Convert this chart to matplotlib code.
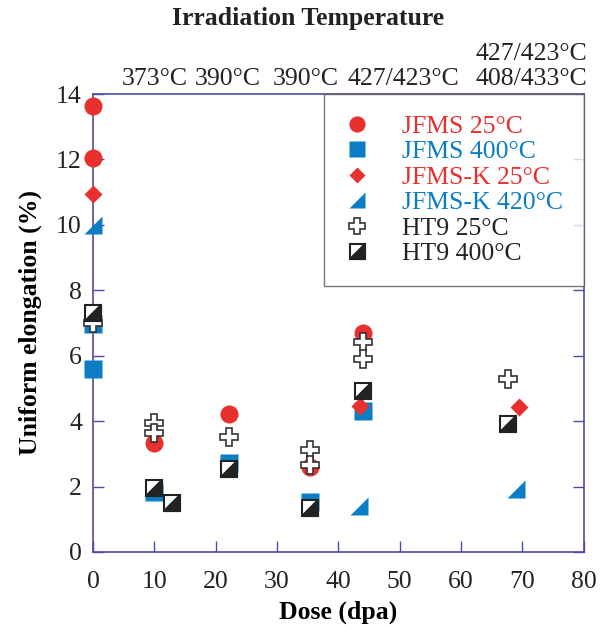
import matplotlib
matplotlib.use('Agg')
import matplotlib.pyplot as plt
from matplotlib.path import Path
import numpy as np

plt.rcParams['font.family'] = ['Liberation Serif', 'DejaVu Serif']

red = '#e8302e'
blue = '#0a7dc4'
spine_col = '#4b4ba6'
fs = 18.5

# JFMS 25C (circles)
jfms25_x = [0, 0, 10, 22.2, 35.3, 44]
jfms25_y = [13.63, 12.04, 3.34, 4.23, 2.59, 6.69]
# JFMS 400C (squares)
jfms400_x = [0, 0, 10, 22.2, 35.3, 44]
jfms400_y = [6.97, 5.6, 1.82, 2.73, 1.53, 4.32]
# JFMS-K 25C (diamonds)
jfmsk25_x = [0, 43.5, 69.4]
jfmsk25_y = [10.94, 4.47, 4.43]
# JFMS-K 420C (triangles)
jfmsk420_x = [0, 43.3, 69.0]
jfmsk420_y = [10.0, 1.42, 1.93]
# HT9 25C (crosses)
ht925_x = [0, 10, 10, 22.2, 35.3, 35.3, 44, 44, 67.6]
ht925_y = [7.0, 3.94, 3.64, 3.52, 3.12, 2.66, 6.41, 5.9, 5.29]
# HT9 400C (half-filled squares)
ht9400_x = [0, 10, 12.9, 22.2, 35.3, 44, 67.6]
ht9400_y = [7.31, 1.95, 1.51, 2.53, 1.35, 4.91, 3.92]

top_labels = ['373°C', '390°C', '390°C', '427/423°C', '427/423°C\n408/433°C']
top_label_x = [10, 22, 34.6, 50.6, 71.5]

tri = Path([(-1, -1), (1, -1), (1, 1), (-1, -1)],
           [Path.MOVETO, Path.LINETO, Path.LINETO, Path.CLOSEPOLY])

fig = plt.figure(figsize=(6, 6.29), dpi=100)
ax = fig.add_axes([0.155, 0.1225, 0.818, 0.728])

ms = 13
kw = dict(clip_on=False, ls='none')
h1, = ax.plot(jfms25_x, jfms25_y, marker='o', ms=ms, color=red, mec='none', zorder=3, **kw)
h2, = ax.plot(jfms400_x, jfms400_y, marker='s', ms=ms, color=blue, mec='none', zorder=4, **kw)
h3, = ax.plot(jfmsk25_x, jfmsk25_y, marker='D', ms=9.5, color=red, mec='none', zorder=5, **kw)
h4, = ax.plot(jfmsk420_x, jfmsk420_y, marker=tri, ms=ms, color=blue, mec='none', zorder=5, **kw)
h5, = ax.plot(ht925_x, ht925_y, marker='P', ms=ms, mfc='white', mec='#333333', mew=1.2, zorder=6, **kw)
h6a, = ax.plot(ht9400_x, ht9400_y, marker='s', ms=ms - 1, mfc='white', mec='#222222', mew=1.5, zorder=7, **kw)
h6b, = ax.plot(ht9400_x, ht9400_y, marker=tri, ms=ms - 1, color='#222222', mec='#222222', mew=1.5, zorder=8, **kw)

ax.set_xlim(0, 80)
ax.set_ylim(0, 14)
ax.set_xticks(np.arange(0, 81, 10))
ax.set_yticks(np.arange(0, 15, 2))
ax.tick_params(direction='in', length=8, width=1, color=spine_col, labelsize=fs,
               labelcolor='#222222', top=True, right=True)
ax.tick_params(axis='x', pad=14)
ax.tick_params(axis='y', pad=8)
for sp in ax.spines.values():
    sp.set_color(spine_col)
    sp.set_linewidth(1.2)

ax.set_xlabel('Dose (dpa)', fontsize=fs, fontweight='bold', labelpad=5)
ax.set_ylabel('Uniform elongation (%)', fontsize=fs, fontweight='bold', labelpad=10)

top = ax.twiny()
top.set_xlim(0, 80)
top.set_xticks(top_label_x)
top.set_xticklabels(top_labels, fontsize=fs, color='#222222', linespacing=1.15)
top.tick_params(length=0, pad=3)
for sp in top.spines.values():
    sp.set_visible(False)
fig.text(308 / 600, 1 - 18 / 629, 'Irradiation Temperature', fontsize=fs, fontweight='bold',
         ha='center', va='center', color='#222222')

leg = ax.legend([h1, h2, h3, h4, h5, (h6a, h6b)],
                ['JFMS 25°C', 'JFMS 400°C', 'JFMS-K 25°C', 'JFMS-K 420°C', 'HT9 25°C', 'HT9 400°C'],
                loc='upper right', bbox_to_anchor=(1.0, 1.0), borderaxespad=0,
                fontsize=fs, frameon=True, fancybox=False, edgecolor='#555555',
                labelspacing=0.1, handletextpad=1.3, handlelength=0.95, borderpad=0.8,
                markerscale=0.9)
leg.get_frame().set_linewidth(1.0)
for t, c in zip(leg.get_texts(), [red, blue, red, blue, '#222222', '#222222']):
    t.set_color(c)

fig.savefig('out.png', dpi=100)
